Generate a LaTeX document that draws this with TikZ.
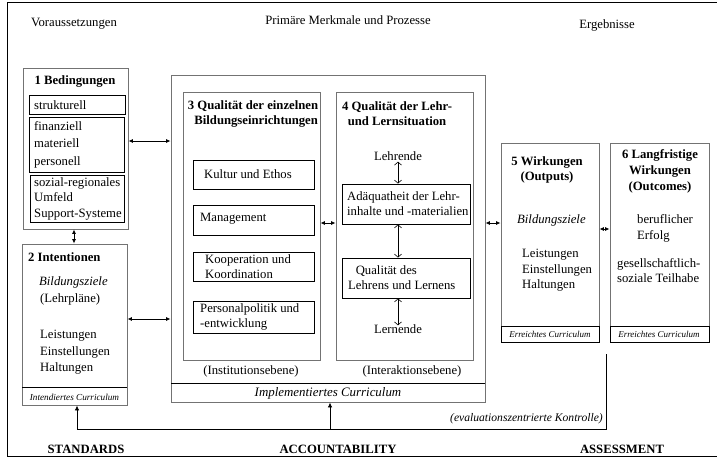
\documentclass[tikz,border=0pt]{standalone}
\usepackage{fontspec}
\setmainfont{Liberation Serif}
\usetikzlibrary{fit,arrows.meta}
\newcommand\fsn{\fontsize{12.7}{15}\selectfont}
\newcommand\fss{\fontsize{9}{10}\selectfont}
\begin{document}
\begin{tikzpicture}[x=1pt,y=-1pt,
  gbox/.style={draw=black!55, line width=0.9pt, inner sep=0pt, fit={#1}},
  ibox/.style={draw=black, line width=0.9pt, inner sep=0pt, fit={#1}},
  txt/.style={inner sep=0pt, font=\fsn, align=left},
  ctxt/.style={inner sep=0pt, font=\fsn, align=center},
  btxt/.style={inner sep=0pt, font=\fsn\bfseries, align=center},
  stxt/.style={inner sep=0pt, font=\fss\itshape},
  sepline/.style={draw=black, line width=0.9pt},
  arr/.style={line width=0.8pt, {Latex[length=4.5pt,width=4pt]}-{Latex[length=4.5pt,width=4pt]}},
  uarr/.style={line width=0.8pt, -{Latex[length=5pt,width=4.5pt]}},
  oarr/.style={line width=0.6pt, {Straight Barb[length=3pt,width=7pt]}-{Straight Barb[length=3pt,width=7pt]}}
]
\useasboundingbox (0,0) rectangle (717,459);
% outer frame
\draw[line width=1pt] (717,2) -- (7,2) -- (7,456) -- (717,456);

% headers
\node[ctxt] (h1) at (74,24) {Voraussetzungen};
\node[ctxt] (h2) at (348,20) {Primäre Merkmale und Prozesse};
\node[ctxt] (h3) at (607,25) {Ergebnisse};

% box 1
\node[gbox={(23,68)(128,229)}] (b1) {};
\node[btxt] (b1t) at (75,81) {1 Bedingungen};
\node[ibox={(29,95)(125,114)}] (s1) {};
\node[txt, anchor=west] (s1t) at (34,105) {strukturell};
\node[ibox={(29,117)(124,172)}] (s2) {};
\node[txt, anchor=west, font=\fontsize{12.7}{17.5}\selectfont] (s2t) at (34,144.5) {finanziell\\materiell\\personell};
\node[ibox={(30,175)(124,222)}] (s3) {};
\node[txt, anchor=west, font=\fontsize{12.7}{15.5}\selectfont] (s3t) at (34,198.5) {sozial-regionales\\Umfeld\\Support-Systeme};

% box 2
\node[gbox={(22,244)(127,405)}] (b2) {};
\draw[sepline] (22,387) -- (127,387);
\node[txt, anchor=west, font=\fsn\bfseries] (b2t) at (28,257) {2 Intentionen};
\node[txt, anchor=west, font=\fsn\itshape] (b2a) at (39,282) {Bildungsziele};
\node[txt, anchor=west] (b2b) at (40,299) {(Lehrpläne)};
\node[txt, anchor=west, font=\fontsize{12.7}{16.5}\selectfont] (b2c) at (40,352.5) {Leistungen\\Einstellungen\\Haltungen};
\node[stxt, font=\fontsize{9.2}{10}\selectfont\itshape] (b2s) at (74.5,397) {Intendiertes Curriculum};

% big box
\node[gbox={(171,75)(485,402)}] (big) {};
\draw[sepline] (171,383) -- (485,383);
\node[inner sep=0pt, font=\fontsize{12.9}{15}\selectfont\itshape] (bigs) at (328,393) {Implementiertes Curriculum};

% box 3
\node[gbox={(183,92)(320,360)}] (b3) {};
\node[btxt] (b3t) at (253,113.5) {3 Qualität der einzelnen\\\hspace*{0.5em}Bildungseinrichtungen};
\node[ibox={(193,160)(314,189)}] (k1) {};
\node[txt, anchor=west] (k1t) at (204,174) {Kultur und Ethos};
\node[ibox={(193,205)(314,235)}] (k2) {};
\node[txt, anchor=west] (k2t) at (200,219) {Management};
\node[ibox={(193,252)(314,281)}] (k3) {};
\node[txt, anchor=west] (k3t) at (205,266.5) {Kooperation und\\Koordination};
\node[ibox={(193,301)(314,333)}] (k4) {};
\node[txt, anchor=west] (k4t) at (200,317) {Personalpolitik und\\-entwicklung};
\node[ctxt] (b3s) at (251,371) {(Institutionsebene)};

% box 4
\node[gbox={(336,92)(473,360)}] (b4) {};
\node[btxt] (b4t) at (397,113.5) {4 Qualität der Lehr-\\und Lernsituation};
\node[ctxt] (lehr) at (398,156) {Lehrende};
\node[ibox={(342,184)(470,224)}] (ad) {};
\node[txt, anchor=west] (adt) at (347,204) {Adäquatheit der Lehr-\\inhalte und -materialien};
\node[ibox={(342,258)(470,298)}] (ql) {};
\node[txt, anchor=west] (qlt) at (348,278) {\hspace*{0.6em}Qualität des\\Lehrens und Lernens};
\node[ctxt] (lern) at (398,329) {Lernende};
\node[ctxt] (b4s) at (412,371) {(Interaktionsebene)};

% box 5
\node[gbox={(501,143)(599,342)}] (b5) {};
\draw[sepline] (501,326) -- (599,326) -- (599,342) -- (501,342) -- cycle;
\node[btxt] (b5t) at (547,169.5) {5 Wirkungen\\(Outputs)};
\node[txt, anchor=west, font=\fsn\itshape] (b5a) at (517,220) {Bildungsziele};
\node[txt, anchor=west, font=\fontsize{12.7}{15.5}\selectfont] (b5b) at (522,270.5) {Leistungen\\Einstellungen\\Haltungen};
\node[stxt] (b5s) at (550,334) {Erreichtes Curriculum};

% box 6
\node[gbox={(610,143)(709,342)}] (b6) {};
\draw[sepline] (610,326) -- (709,326) -- (709,342) -- (610,342) -- cycle;
\node[btxt, font=\fontsize{12.7}{16}\selectfont\bfseries] (b6t) at (660,171) {6 Langfristige\\Wirkungen\\(Outcomes)};
\node[txt, anchor=west, font=\fontsize{12.7}{16}\selectfont] (b6a) at (637,228) {beruflicher\\Erfolg};
\node[txt, anchor=west] (b6b) at (617,270.5) {gesellschaftlich-\\soziale Teilhabe};
\node[stxt] (b6s) at (659,334) {Erreichtes Curriculum};

% connectors
\coordinate (c1) at (0,141);
\coordinate (c2) at (0,319);
\coordinate (c3) at (0,223);
\coordinate (c5) at (0,229);
\draw[arr] (b1.east |- c1) -- (big.west |- c1);
\draw[arr] (b2.east |- c2) -- (big.west |- c2);
\draw[arr] (b1.south -| 74,0) -- (b2.north -| 74,0);
\draw[arr] (b3.east |- c3) -- (b4.west |- c3);
\draw[arr] (big.east |- c3) -- (b5.west |- c3);
\draw[arr] (b5.east |- c5) -- (b6.west |- c5);
\draw[oarr] (lehr.south -| 398,0) ++(0,1) -- (ad.north -| 398,0);
\draw[oarr] (ad.south -| 398,0) -- (ql.north -| 398,0);
\draw[oarr] (ql.south -| 398,0) -- ([yshift=-1pt]lern.north -| 398,0);

% feedback
\coordinate (fb0) at (606,354);
\coordinate (fb1) at (606,429);
\coordinate (fb2) at (330,429);
\coordinate (fb3) at (77,429);
\draw[line width=0.8pt] (fb0) -- (fb1) -- (fb3);
\draw[uarr] (fb3) -- (b2.south -| fb3);
\draw[uarr] (fb2) -- (big.south -| fb2);
\node[inner sep=0pt, anchor=east, font=\fontsize{11.6}{13}\selectfont\itshape] (fbt) at (603,419) {(evaluationszentrierte Kontrolle)};

% bottom labels
\node[btxt] (l1) at (86,449) {STANDARDS};
\node[btxt] (l2) at (338,449) {ACCOUNTABILITY};
\node[btxt] (l3) at (622,449) {ASSESSMENT};
\end{tikzpicture}
\end{document}
